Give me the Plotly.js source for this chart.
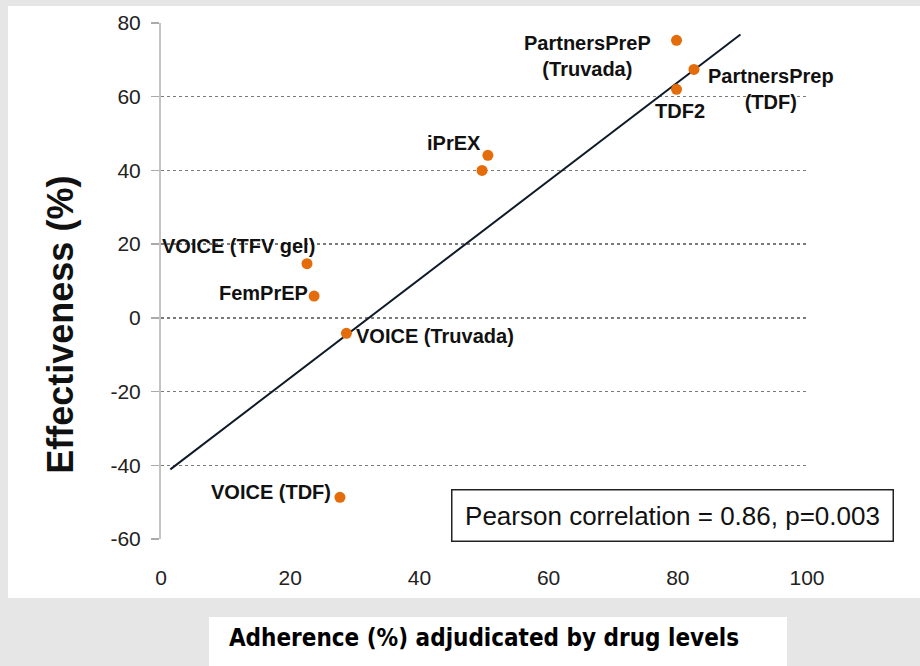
<!DOCTYPE html>
<html>
<head>
<meta charset="utf-8">
<script src="https://cdn.plot.ly/plotly-3.0.1.min.js"></script>
<style>html,body{margin:0;padding:0;background:#e6e6e6;}#chart{width:920px;height:666px;}</style>
</head>
<body>
<div id="chart"></div>
<script>
// Study results: adherence (%) vs effectiveness (%)
const studyNames = ["PartnersPreP (Truvada)", "PartnersPrep (TDF)", "TDF2", "iPrEX", "iPrEX (2)", "VOICE (TFV gel)", "FemPrEP", "VOICE (Truvada)", "VOICE (TDF)"];
const adherence = [79.8, 82.5, 79.8, 50.6, 49.7, 22.6, 23.7, 28.7, 27.7];
const effectiveness = [75.3, 67.4, 62.0, 44.1, 40.0, 14.7, 5.9, -4.2, -48.7];
const labelTexts = ["PartnersPreP<br>(Truvada)", "PartnersPrep<br>(TDF)", "TDF2", "iPrEX", "", "VOICE (TFV gel)", "FemPrEP", "VOICE (Truvada)", "VOICE (TDF)"];

// Fitted regression line end points
const fitX = [1.44, 89.7];
const fitY = [-41.1, 76.9];

const xTickVals = [0, 20, 40, 60, 80, 100];
const xTickText = ["0", "20", "40", "60", "80", "100"];
const yTickVals = [-60, -40, -20, 0, 20, 40, 60, 80];
const yTickText = ["-60", "-40", "-20", "0", "20", "40", "60", "80"];

const corrText = "Pearson correlation = 0.86, p=0.003";
const xTitle = "Adherence (%) adjudicated by drug levels";
const yTitle = "Effectiveness (%)";

// label placement (pixel offsets from each point)
const labelStyle = [
  {xs: -89, ys: -16, xa: "center"},
  {xs: 77, ys: -20, xa: "center"},
  {xs: 3, ys: -22, xa: "center"},
  {xs: -5, ys: 12, xa: "right"},
  null,
  {xs: 10, ys: 18, xa: "right"},
  {xs: -4, ys: 3, xa: "right"},
  {xs: 8, ys: -3, xa: "left"},
  {xs: -7, ys: 5, xa: "right"}
];

const sans = "Liberation Sans, Arial, sans-serif";

const annotations = [];
for (let i = 0; i < studyNames.length; i++) {
  const s = labelStyle[i];
  if (!s || !labelTexts[i]) continue;
  annotations.push({
    x: adherence[i], y: effectiveness[i], xref: "x", yref: "y",
    text: "<b>" + labelTexts[i] + "</b>", showarrow: false,
    xanchor: s.xa, yanchor: "middle", xshift: s.xs, yshift: s.ys,
    font: {family: sans, size: 20, color: "#111"}, align: "center"
  });
}
annotations.push({
  x: 0.792, y: 0.0465, xref: "paper", yref: "paper",
  text: corrText, showarrow: false, xanchor: "center", yanchor: "middle",
  font: {family: sans, size: 26, color: "#111"},
  bgcolor: "#ffffff", bordercolor: "#222", borderwidth: 1.5, borderpad: 1,
  width: 438, height: 48
});
// y-axis title (placed slightly below the axis centre, as in the source)
annotations.push({
  x: -0.155, y: 0.415, xref: "paper", yref: "paper",
  text: "<b>" + yTitle + "</b>", showarrow: false, textangle: -90,
  xanchor: "center", yanchor: "middle",
  font: {family: sans, size: 36, color: "#111"}
});

const traces = [
  {x: fitX, y: fitY, mode: "lines", type: "scatter", line: {color: "#0f1a28", width: 2}, hoverinfo: "skip"},
  {x: adherence, y: effectiveness, mode: "markers", type: "scatter", text: studyNames,
   marker: {color: "#E46C0A", size: 11}}
];

const layout = {
  width: 920, height: 666,
  margin: {l: 161, r: 113, t: 23, b: 127},
  paper_bgcolor: "#e6e6e6", plot_bgcolor: "rgba(0,0,0,0)",
  showlegend: false,
  shapes: [
    {type: "rect", xref: "paper", yref: "paper", x0: -0.2368, x1: 1.2, y0: -0.1143, y1: 1.033, fillcolor: "#ffffff", line: {width: 0}, layer: "below"},
    {type: "rect", xref: "paper", yref: "paper", x0: 0.0743, x1: 0.969, y0: -0.3, y1: -0.151, fillcolor: "#ffffff", line: {width: 0}, layer: "below"}
  ],
  xaxis: {
    range: [0, 100], tickvals: xTickVals, ticktext: xTickText,
    showgrid: false, zeroline: false, showline: false, ticks: "",
    tickfont: {family: sans, size: 21, color: "#222"}, ticklabelstandoff: 24,
    title: {text: "<b>" + xTitle + "</b>", font: {family: "DejaVu Sans Condensed, DejaVu Sans, sans-serif", size: 24, color: "#000"}, standoff: 41}
  },
  yaxis: {
    range: [-60, 80], tickvals: yTickVals, ticktext: yTickText,
    showgrid: true, gridcolor: "#7a7a7a", gridwidth: 1.5, griddash: "dot",
    zeroline: false, showline: true, linecolor: "#c4c4c4", linewidth: 2,
    ticks: "outside", ticklen: 8, tickcolor: "#aaa", tickwidth: 1.5,
    tickfont: {family: sans, size: 21, color: "#222"}, ticklabelstandoff: 6
  },
  annotations: annotations
};

Plotly.newPlot("chart", traces, layout, {displayModeBar: false, staticPlot: true});
</script>
</body>
</html>
